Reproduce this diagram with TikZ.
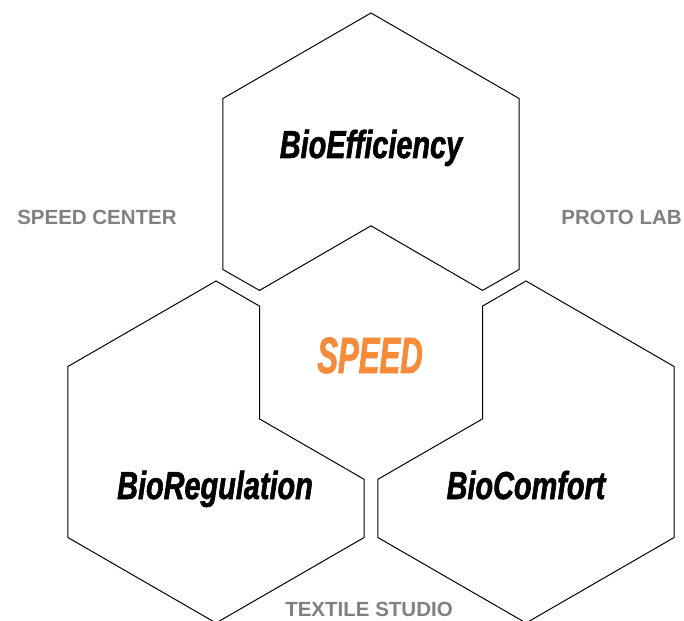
\documentclass[tikz,border=0pt]{standalone}
\usepackage{fontspec}
\setmainfont{Liberation Sans}
\newfontfamily\hexfont{Liberation Sans}[FakeStretch=0.74,FakeBold=1.4]
\newfontfamily\speedfont{Liberation Sans}[FakeStretch=0.61,FakeBold=1.4]
\definecolor{graytxt}{RGB}{128,128,128}
\definecolor{speedorange}{RGB}{246,140,58}
\tikzset{
  hexline/.style={draw=black, line width=1pt, line join=miter},
  hexlabel/.style={anchor=base, inner sep=0pt, font=\hexfont\bfseries\itshape\fontsize{39}{39}\selectfont},
  speedlabel/.style={anchor=base, inner sep=0pt, text=speedorange, font=\speedfont\bfseries\itshape\fontsize{51}{51}\selectfont},
  grouplabel/.style={anchor=base, inner sep=0pt, text=graytxt, font=\bfseries\fontsize{20.5}{20.5}\selectfont}
}
\begin{document}
\begin{tikzpicture}[x=1pt,y=-1pt]
\useasboundingbox (0,0) rectangle (684,620);
\clip (0,0) rectangle (684,620);
% top hexagon (BioEfficiency)
\draw[hexline] (371,13) -- (222.9,98.5) -- (222.9,269.5) -- (259.5,290.4) -- (371,225.8)
  -- (482.5,290.4) -- (519.1,269.5) -- (519.1,98.5) -- cycle;
% bottom-left hexagon (BioRegulation)
\draw[hexline] (216,281) -- (259.5,306.1) -- (259.5,418.9) -- (364.1,479.3) -- (364.1,537.5)
  -- (216,623) -- (67.9,537.5) -- (67.9,366.5) -- cycle;
% bottom-right hexagon (BioComfort)
\draw[hexline] (526,281) -- (482.5,306.1) -- (482.5,418.9) -- (377.9,479.3) -- (377.9,537.5)
  -- (526,623) -- (674.1,537.5) -- (674.1,366.5) -- cycle;
% labels
\node[hexlabel] (eff) at (371,158) {BioEfficiency};
\node[speedlabel] (speed) at (370,373) {SPEED};
\node[hexlabel] (reg) at (215,499) {BioRegulation};
\node[hexlabel] (com) at (526,499) {BioComfort};
\node[grouplabel] (center) at (97,224) {SPEED CENTER};
\node[grouplabel] (proto) at (621.5,224) {PROTO LAB};
\node[grouplabel] (studio) at (369,616) {TEXTILE STUDIO};
\end{tikzpicture}
\end{document}
